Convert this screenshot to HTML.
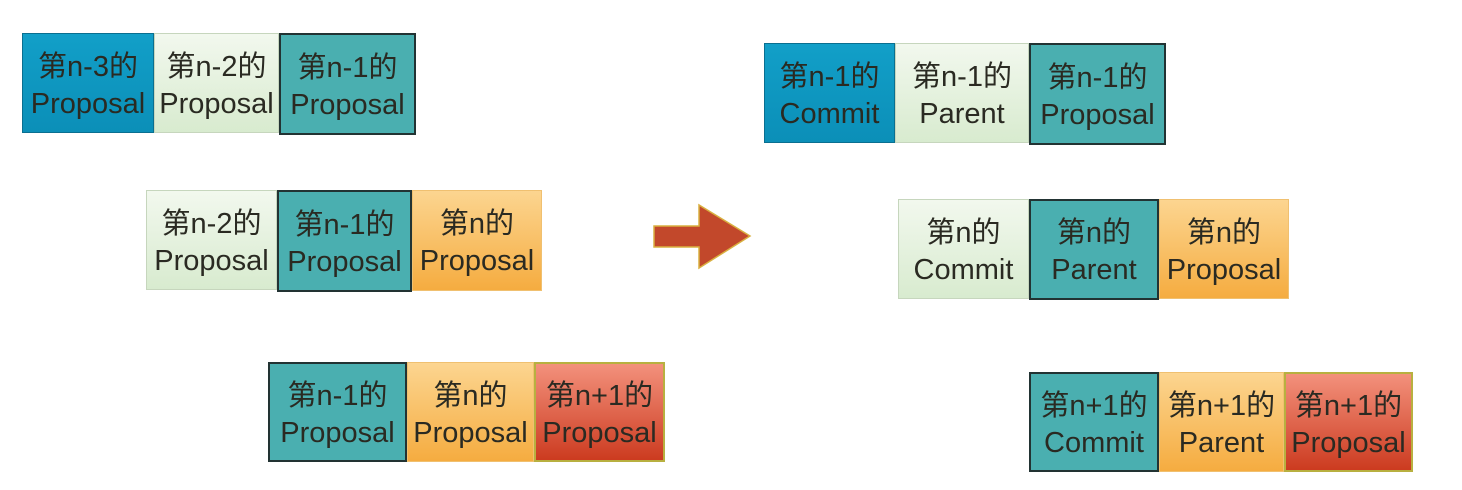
<!DOCTYPE html>
<html><head><meta charset="utf-8"><style>
body{margin:0;width:1462px;height:490px;background:#fff;position:relative;overflow:hidden;font-family:"Liberation Sans","Noto Sans CJK SC",sans-serif;}
.b{position:absolute;box-sizing:border-box;display:flex;align-items:center;justify-content:center;text-align:center;font-size:29px;line-height:37px;color:#2a2a22;white-space:nowrap;padding-top:5px;}
.bl{background:linear-gradient(#129fc8,#0b8fb8);border:1px solid #0a6f90;}
.gr{background:linear-gradient(#f2f8ee,#d8ebcf);border:1px solid #c6d6bd;}
.te{background:#4aafb0;border:2px solid #233;}
.or{background:linear-gradient(#fcd590,#f5ac40);border:1px solid #f0c070;}
.rd{background:linear-gradient(#f3917c,#cc3b20);border:2px solid #b8b040;}
</style></head><body>
<div class="b bl" style="left:22px;top:33px;width:132px;height:100px">第n-3的<br>Proposal</div>
<div class="b gr" style="left:154px;top:33px;width:125px;height:100px">第n-2的<br>Proposal</div>
<div class="b te" style="left:279px;top:33px;width:137px;height:102px">第n-1的<br>Proposal</div>

<div class="b gr" style="left:146px;top:190px;width:131px;height:100px">第n-2的<br>Proposal</div>
<div class="b te" style="left:277px;top:190px;width:135px;height:102px">第n-1的<br>Proposal</div>
<div class="b or" style="left:412px;top:190px;width:130px;height:101px">第n的<br>Proposal</div>

<div class="b te" style="left:268px;top:362px;width:139px;height:100px">第n-1的<br>Proposal</div>
<div class="b or" style="left:407px;top:362px;width:127px;height:100px">第n的<br>Proposal</div>
<div class="b rd" style="left:534px;top:362px;width:131px;height:100px">第n+1的<br>Proposal</div>

<svg style="position:absolute;left:0;top:0" width="1462" height="490"><polygon points="654,226 699,226 699,205 750,236 699,268 699,247 654,247" fill="#c2482b" stroke="#d9b040" stroke-width="1.5"/></svg>

<div class="b bl" style="left:764px;top:43px;width:131px;height:100px">第n-1的<br>Commit</div>
<div class="b gr" style="left:895px;top:43px;width:134px;height:100px">第n-1的<br>Parent</div>
<div class="b te" style="left:1029px;top:43px;width:137px;height:102px">第n-1的<br>Proposal</div>

<div class="b gr" style="left:898px;top:199px;width:131px;height:100px">第n的<br>Commit</div>
<div class="b te" style="left:1029px;top:199px;width:130px;height:101px">第n的<br>Parent</div>
<div class="b or" style="left:1159px;top:199px;width:130px;height:100px">第n的<br>Proposal</div>

<div class="b te" style="left:1029px;top:372px;width:130px;height:100px">第n+1的<br>Commit</div>
<div class="b or" style="left:1159px;top:372px;width:125px;height:100px">第n+1的<br>Parent</div>
<div class="b rd" style="left:1284px;top:372px;width:129px;height:100px">第n+1的<br>Proposal</div>
</body></html>
